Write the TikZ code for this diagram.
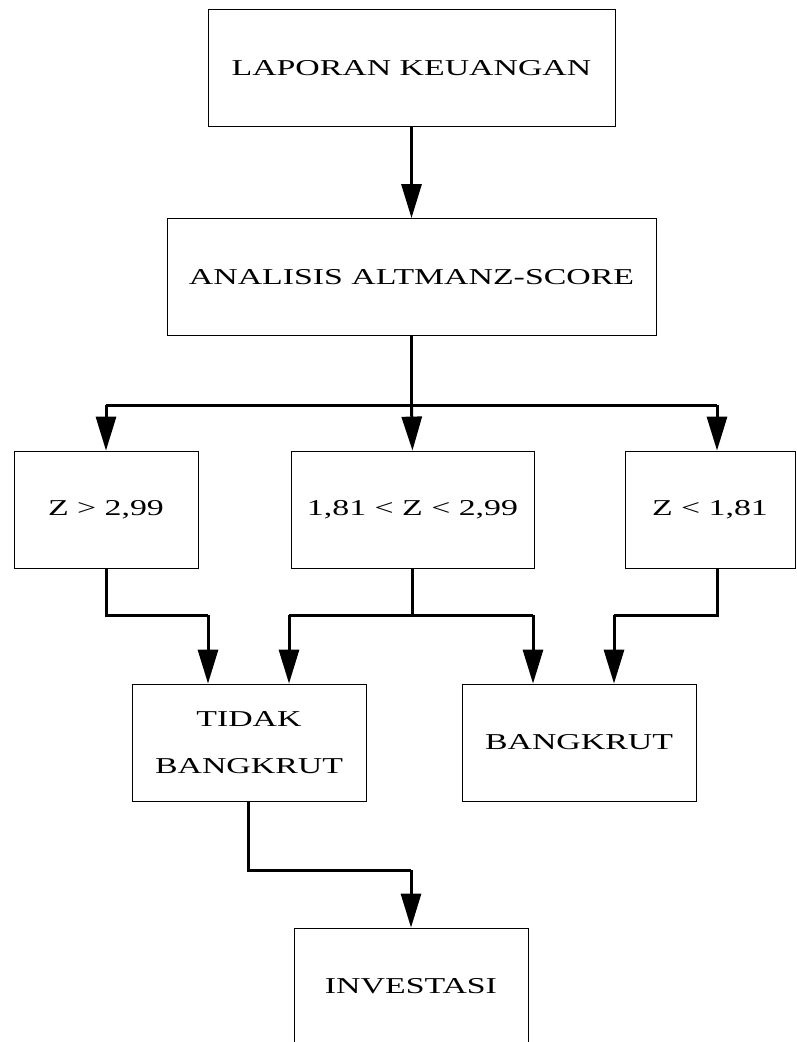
\documentclass[tikz,border=0pt]{standalone}
\usepackage{fontspec}
\usepackage{tikz}
\usetikzlibrary{arrows.meta}
\newfontfamily\boxfont[FakeStretch=1.49]{Liberation Serif}

\begin{document}
\begin{tikzpicture}[x=1pt,y=-1pt,
      box/.style={draw,line width=0.8pt,inner sep=0pt,minimum height=117pt,
                  align=center,font=\boxfont\fontsize{22.7}{47}\selectfont},
      conn/.style={line width=3pt},
      arr/.style={conn,-{Triangle[width=20pt,length=34pt]}}]
    \useasboundingbox (0,0) rectangle (796,1042);

    \node[box,minimum width=407pt] (lap) at (411.5,68) {LAPORAN KEUANGAN};
    \node[box,minimum width=489pt] (ana) at (411.5,277) {ANALISIS ALTMANZ-SCORE};
    \node[box,minimum width=184pt] (zhi) at (106,509.5) {Z > 2,99};
    \node[box,minimum width=243pt] (zmid) at (412.5,509.5) {1,81 < Z < 2,99};
    \node[box,minimum width=170pt] (zlo) at (710,509.5) {Z < 1,81};
    \node[box,minimum width=234pt] (tidak) at (249,742.5) {TIDAK\\BANGKRUT};
    \node[box,minimum width=234pt] (bangkrut) at (579,742.5) {BANGKRUT};
    \node[box,minimum width=234pt] (inv) at (411,986.5) {INVESTASI};

    % split below the analysis
    \coordinate (s1) at (106,405);
    \coordinate (s2) at (411.5,405);
    \coordinate (s3) at (717,405);
    % joins above the results
    \coordinate (j1) at (208,615);
    \coordinate (j2) at (289,615);
    \coordinate (j3) at (533,615);
    \coordinate (j4) at (614,615);
    \coordinate (k1) at (411,870);

    \draw[arr] (lap) -- (ana);
    \draw[conn] (ana.south) -- (s2);
    \draw[conn] (s1) -- (s3);
    \draw[arr] (s1) -- (zhi.north);
    \draw[arr] (s2) -- (zmid.north);
    \draw[arr] (s3) -- (s3 |- zlo.north);

    \draw[conn] (zhi.south) |- (j1);
    \draw[arr] (j1) -- (j1 |- tidak.north);
    \draw[conn] (zmid.south) -- (zmid.south |- j2);
    \draw[conn] (j2) -- (j3);
    \draw[arr] (j2) -- (j2 |- tidak.north);
    \draw[arr] (j3) -- (j3 |- bangkrut.north);
    \draw[conn] (s3 |- zlo.south) |- (j4);
    \draw[arr] (j4) -- (j4 |- bangkrut.north);

    \draw[conn] (tidak.south -| 248,0) |- (k1);
    \draw[arr] (k1) -- (inv.north);
\end{tikzpicture}
\end{document}
